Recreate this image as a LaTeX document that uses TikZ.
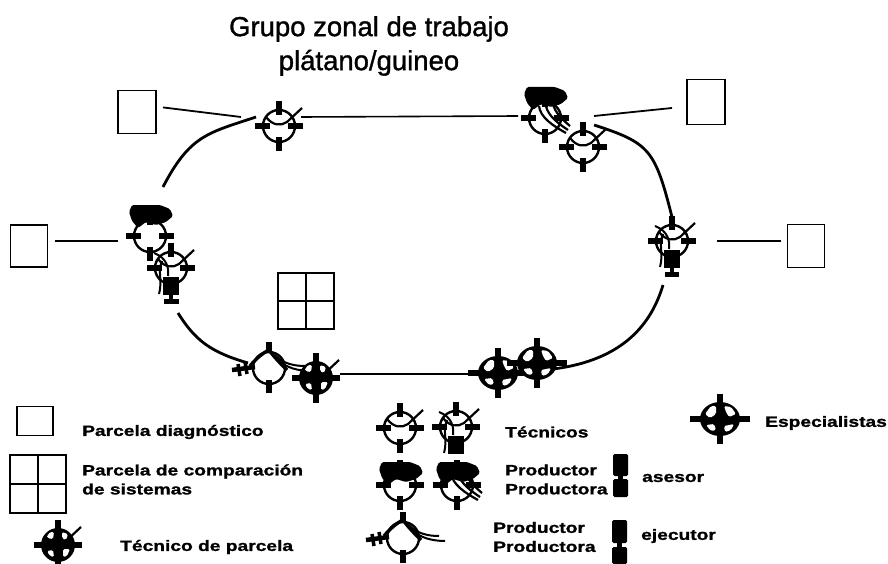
\documentclass[tikz,border=0pt]{standalone}
\usepackage{fontspec}
\setmainfont{Liberation Sans}
\newfontfamily\legendfont[FakeStretch=1.28, FakeBold=1.2]{Liberation Sans Bold}
\newfontfamily\titlefont[FakeBold=1.2]{Liberation Sans}
\usetikzlibrary{positioning, calc}

\newcommand{\peloshift}{0pt}
\newcommand{\cabeza}{%
    \draw[line width=2.4pt] (0,0) circle[radius=16];
    \draw[tick] (0,-25) -- (0,-11);
    \draw[tick] (0,25) -- (0,11);
    \draw[tick] (-24,0) -- (-9,0);
    \draw[tick] (24,0) -- (9,0);
}
\newcommand{\gorra}{%
    \draw[line width=2.2pt] (-13,-9) .. controls (-6,0) and (2,0) .. (8,-4) -- (23,-18);
}
\newcommand{\pelo}{%
    \fill[rounded corners=1.5pt, yshift=\peloshift] (-18,-31) -- (10,-31) -- (20,-27) -- (23,-20) -- (16,-14)
        -- (6,-11) -- (-4,-14) -- (-12,-8) -- (-18,-15) -- (-21,-24) -- cycle;
}

\tikzset{
    tick/.style={line width=6.5pt},
    hole/.style={fill=white, rounded corners=1.5pt},
    pics/tecnico/.style={code={\cabeza\gorra}},
    pics/tecnica/.style={code={\cabeza\gorra
        \draw[line width=2pt] (-17,-15) .. controls (-4,-10) and (-2,0) .. (-3,8);
        \draw[line width=2pt] (-9,-7) .. controls (-14,5) and (-8,10) .. (-12,26);
        \fill (-8,9) rectangle (8,27);
    }},
    pics/productor/.style={code={\cabeza\pelo}},
    pics/productora/.style={code={\cabeza\pelo
        \draw[line width=2.2pt] (-6,-12) .. controls (-5,-1) and (8,8) .. (21,15);
        \draw[line width=2.2pt] (1,-12) .. controls (3,-2) and (14,6) .. (23,12);
        \draw[line width=2.2pt] (8,-14) .. controls (10,-5) and (18,2) .. (25,8);
    }},
    pics/ejecutor/.style={code={%
        \draw[line width=2.4pt] (0,0) circle[radius=16];
        \draw[tick] (0,-26) -- (0,-15);
        \draw[tick] (0,25) -- (0,12);
        \draw[line width=3.4pt] (0,-18) .. controls (-8,-14) and (-14,-8) .. (-19,-2);
        \draw[line width=3.4pt] (0,-18) .. controls (6,-10) and (12,-4) .. (18,2);
        \draw[line width=2pt] (6,-13) .. controls (14,-4) and (26,-2) .. (36,-2);
        \draw[line width=2pt] (9,-9) .. controls (16,0) and (30,3) .. (42,3);
        \draw[line width=4.5pt] (-37,2) -- (-14,-1);
        \draw[line width=3.5pt] (-31,-4) -- (-29,8);
        \draw[line width=3.5pt] (-24,-6) -- (-22,6);
    }},
    pics/especialista/.style={code={%
        \fill (0,0) ellipse[x radius=20, y radius=17];
        \draw[tick] (0,-25) -- (0,-14);
        \draw[tick] (0,25) -- (0,12);
        \draw[tick] (-30,0) -- (-16,0);
        \draw[tick] (30,0) -- (16,0);
        \fill[hole] (-15,-5) -- (-9,-13) -- (-4,-13) -- (-4,-5) -- (-10,-1) -- cycle;
        \fill[hole] (4,-13) -- (11,-12) -- (16,-5) -- (9,-2) -- (6,-7) -- cycle;
        \fill[hole] (-14,6) -- (-6,5) -- (-4,11) -- (-9,12) -- cycle;
        \fill[hole] (4,7) -- (14,5) -- (11,11) -- (5,13) -- cycle;
    }},
    pics/parcelero/.style={code={%
        \fill (0,0) circle[radius=17];
        \draw[tick] (0,-25) -- (0,-11);
        \draw[tick] (0,25) -- (0,11);
        \draw[tick] (-24,0) -- (-9,0);
        \draw[tick] (24,0) -- (9,0);
        \fill[hole] (-12,-7) -- (-8,-13) -- (-4,-13) -- (-5,-6) -- cycle;
        \fill[hole] (4,-13) -- (10,-11) -- (8,-5) -- (4,-7) -- cycle;
        \fill[hole] (-11,6) -- (-5,5) -- (-4,12) -- (-8,11) -- cycle;
        \fill[hole] (5,4) -- (12,4) -- (9,11) -- (5,12) -- cycle;
        \gorra
    }},
}

\begin{document}
\begin{tikzpicture}[
    x=1pt, y=-1pt,
    parcela/.style={draw, line width=1.5pt, outer sep=7pt, inner sep=0pt},
    parcelaG/.style={draw, line width=1.6pt, inner sep=0pt},
    leader/.style={line width=1.8pt},
    ring/.style={line width=2.8pt},
    legend/.style={font=\legendfont\fontsize{15}{15}\selectfont, align=left, inner sep=0pt},
    title/.style={font=\titlefont\fontsize{27.5}{34}\selectfont, align=center, inner sep=0pt},
    ]
    \useasboundingbox (0,0) rectangle (888,564);

    \node (Title) [title] at (369,46) {Grupo zonal de trabajo\\plátano/guineo};

    % Plots on the ring
    \node (P1) [parcela, minimum width=38pt, minimum height=43pt] at (137,112) {};
    \node (P2) [parcela, outer sep=15pt, minimum width=38pt, minimum height=45pt] at (706,102) {};
    \node (P3) [parcela, minimum width=37pt, minimum height=42pt] at (29,246) {};
    \node (P4) [parcela, minimum width=37pt, minimum height=43pt] at (806,246) {};
    \node (G1) [parcelaG, minimum width=56pt, minimum height=56pt] at (306,301) {};
    \draw[line width=1.5pt] (G1.north) -- (G1.south);
    \draw[line width=1.5pt] (G1.west) -- (G1.east);

    % People on the ring
    \coordinate (A1) at (279,126);
    \coordinate (A2) at (545,118);
    \coordinate (A3) at (583,147);
    \coordinate (A4) at (672,241);
    \coordinate (A5) at (150,236);
    \coordinate (A6) at (171,268);
    \coordinate (A7) at (269,368);
    \coordinate (A8) at (316,378);
    \coordinate (A9) at (498,373);
    \coordinate (A10) at (537,363);
    \pic at (A1) {tecnico};
    \pic at (A2) {productora};
    \pic at (A3) {tecnico};
    \pic at (A4) {tecnica};
    \pic at (A5) {productor};
    \pic at (A6) {tecnica};
    \pic at (A7) {ejecutor};
    \pic at (A8) {parcelero};
    \pic at (A9) {especialista};
    \pic at (A10) {especialista};
    \draw[line width=4.5pt] ($(A4)+(0,26)$) -- ($(A4)+(0,33)$);
    \draw[line width=4.5pt] ($(A6)+(0,26)$) -- ($(A6)+(0,33)$);
    \draw[tick, line width=5pt] ($(A4)+(-7,33)$) -- ($(A4)+(7,33)$);
    \draw[tick, line width=5pt] ($(A6)+(-7,33)$) -- ($(A6)+(8,33)$);

    % Ring
    \coordinate (R1) at (256,117);
    \coordinate (R2) at (163,187);
    \coordinate (R3) at (301,117);
    \coordinate (R4) at (518,116);
    \coordinate (R5) at (594,125);
    \coordinate (R6) at (672,217);
    \coordinate (R7) at (663,285);
    \coordinate (R8) at (553,369);
    \coordinate (R9) at (178,313);
    \coordinate (R10) at (248,363);
    \coordinate (R11) at (340,374);
    \coordinate (R12) at (473,374);
    \draw[ring] (R1) .. controls (208,133) and (190,135) .. (R2);
    \draw[line width=1.6pt] (R3) -- (R4);
    \draw[ring] (R5) .. controls (650,143) and (655,150) .. (R6);
    \draw[ring] (R7) .. controls (652,322) and (625,360) .. (R8);
    \draw[ring] (R9) .. controls (195,340) and (210,352) .. (R10);
    \draw[line width=1.6pt] (R11) -- (R12);

    % Leaders
    \coordinate (L1) at (241,117);
    \coordinate (L2) at (594,116);
    \coordinate (L3) at (118,241);
    \coordinate (L4) at (717,241);
    \draw[leader] (P1.10) -- (L1);
    \draw[leader] (P2.190) -- (L2);
    \draw[leader] (P3.east |- L3) -- (L3);
    \draw[leader] (L4) -- (L4 -| P4.west);

    % Legend
    \node (LP) [parcela, outer sep=0pt, minimum width=36pt, minimum height=29pt] at (35,421) {};
    \node (LPT) [legend, anchor=west] at (82,432) {Parcela diagnóstico};
    \node (LG) [parcelaG, minimum width=56pt, minimum height=58pt] at (38,484) {};
    \draw[line width=1.5pt] (LG.north) -- (LG.south);
    \draw[line width=1.5pt] (LG.west) -- (LG.east);
    \node (LGT) [legend, anchor=west] at (82,479.5) {Parcela de comparación\\[4pt]de sistemas};
    \coordinate (LT) at (58,545);
    \pic at (LT) {parcelero};
    \node (LTT) [legend, anchor=west] at (120,547) {Técnico de parcela};

    \renewcommand{\peloshift}{-8pt}
    \coordinate (M1) at (400,428);
    \coordinate (M2) at (456,427);
    \coordinate (M3) at (400,485);
    \coordinate (M4) at (457,485);
    \coordinate (M5) at (403,538);
    \pic at (M1) {tecnico};
    \pic at (M2) {tecnica};
    \pic at (M3) {productor};
    \pic at (M4) {productora};
    \pic at (M5) {ejecutor};
    \node (MT1) [legend, anchor=west] at (505,432) {Técnicos};
    \node (MT2) [legend, anchor=west] at (505,479.5) {Productor\\[4pt]Productora};
    \node (MT3) [legend, anchor=west] at (493,537) {Productor\\[4pt]Productora};

    % Small symbols beside the labels
    \fill[rounded corners=1.5pt] (613,454) rectangle (628,476);
    \fill (618,474) rectangle (623,481);
    \fill[rounded corners=1.5pt] (613,479) rectangle (628,497);
    \fill[rounded corners=1.5pt] (612,520) rectangle (627,543);
    \fill (617,541) rectangle (622,549);
    \fill[rounded corners=1.5pt] (612,547) rectangle (627,564);
    \node (MT4) [legend, anchor=west] at (642,478) {asesor};
    \node (MT5) [legend, anchor=west] at (641,536) {ejecutor};

    \coordinate (E1) at (720,419);
    \pic at (E1) {especialista};
    \node (ET) [legend, anchor=west] at (765,423) {Especialistas};
\end{tikzpicture}
\end{document}
